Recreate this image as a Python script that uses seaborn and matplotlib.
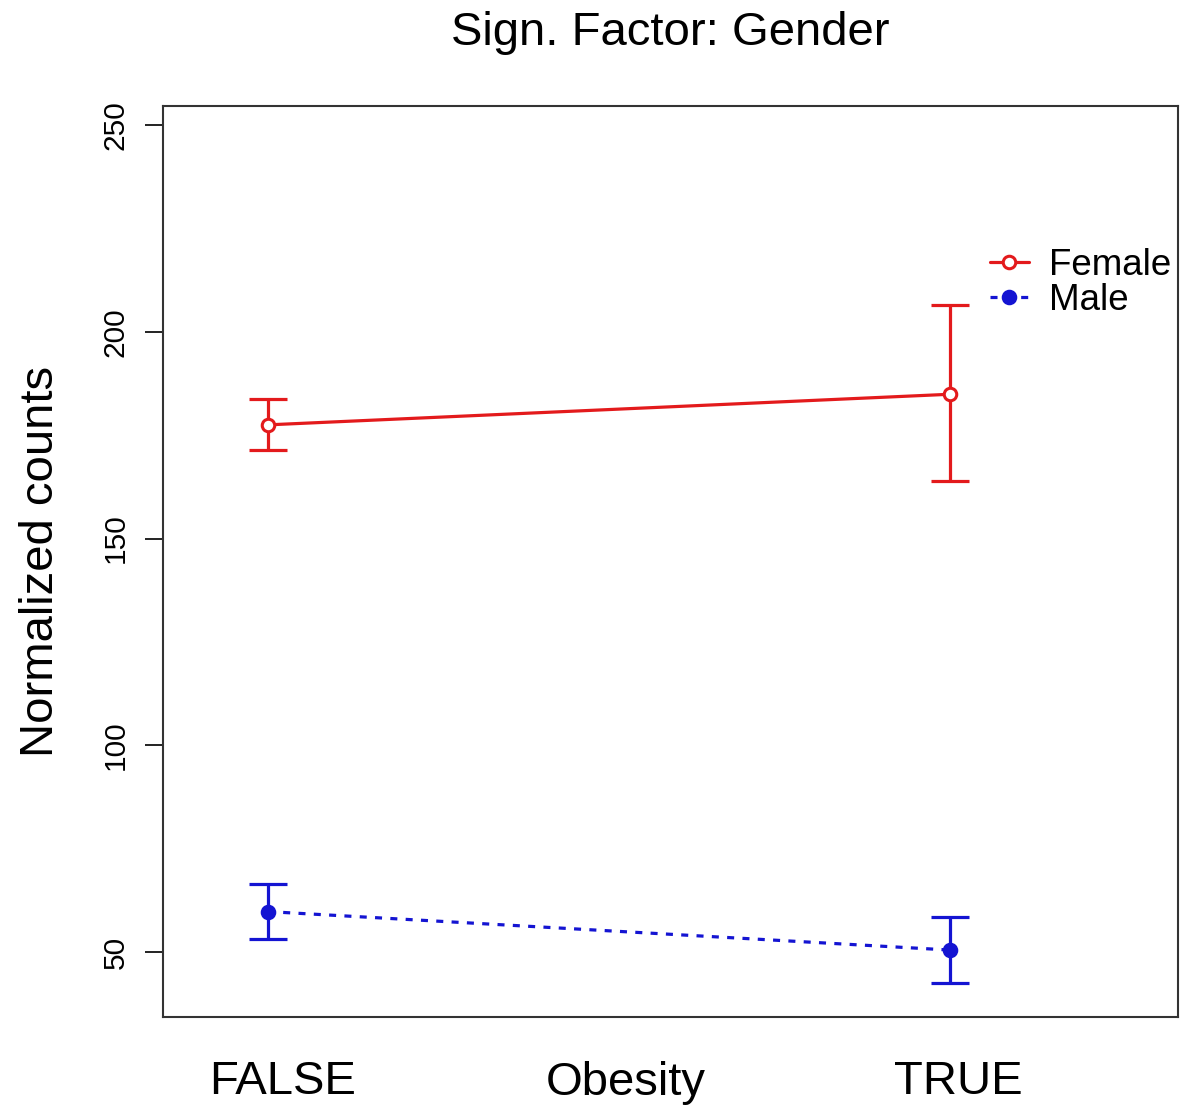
import numpy as np
import pandas as pd
import seaborn as sns
import matplotlib.pyplot as plt

# valores
categories = ["FALSE", "TRUE"]
genders = ["Female", "Male"]
female_mean = [177.5, 184.9]
female_lo = [171.4, 164.0]
female_hi = [183.7, 206.6]
male_mean = [59.8, 50.5]
male_lo = [53.1, 42.5]
male_hi = [66.4, 58.5]
yticks = [50, 100, 150, 200, 250]

sns.set_theme(style="white")
plt.rcParams['font.family'] = ['Liberation Sans', 'DejaVu Sans']
plt.rcParams['text.color'] = 'black'
plt.rcParams['axes.labelcolor'] = 'black'

x = np.arange(len(categories))
df = pd.DataFrame({
    "pos": np.concatenate([x, x]),
    "mean": female_mean + male_mean,
    "lo": female_lo + male_lo,
    "hi": female_hi + male_hi,
    "Gender": ["Female"] * 2 + ["Male"] * 2,
})

estilos = {
    "Female": dict(color="#e31a1c", mfc="white", ls="-"),
    "Male": dict(color="#1414d2", mfc="#1414d2", ls=(0, (2.2, 2.6))),
}

fig = plt.figure(figsize=(11.8, 11.08), dpi=100)
ax = fig.add_axes([0.138, 0.0821, 0.86, 0.8222])

for g in genders:
    sub = df[df["Gender"] == g]
    st = estilos[g]
    # barras de erro
    ax.errorbar(sub["pos"], sub["mean"],
                yerr=[sub["mean"] - sub["lo"], sub["hi"] - sub["mean"]],
                fmt="none", ecolor=st["color"], elinewidth=2.3,
                capsize=14, capthick=2.3, zorder=2)
    sns.lineplot(data=sub, x="pos", y="mean", ax=ax, errorbar=None,
                 color=st["color"], linewidth=2.3, linestyle=st["ls"],
                 marker="o", markersize=9, markerfacecolor=st["mfc"],
                 markeredgecolor=st["color"], markeredgewidth=2.2,
                 label=g, zorder=3)

ax.set_xlim(-0.154, 1.334)
ax.set_ylim(34.3, 254.6)
ax.set_yticks(yticks)
ax.set_yticklabels([str(t) for t in yticks], rotation=90, va="center")
ax.set_xticks([0.021, 1.0125])
ax.set_xticklabels(categories)
ax.tick_params(axis="x", length=0, pad=31, labelsize=34, labelcolor="black")
ax.tick_params(axis="y", length=13, width=1.4, pad=11, labelsize=21.5,
               colors="#222222", left=True)
ax.tick_params(axis="y", labelcolor="black")
ax.set_xlabel("")
ax.set_ylabel("Normalized counts", fontsize=34, labelpad=28)
ax.text(0.456, -0.0856, "Obesity", transform=ax.transAxes,
        ha="center", va="baseline", fontsize=34)
fig.suptitle("Sign. Factor: Gender", x=0.568, y=0.99, va="top", fontsize=34)

for s in ax.spines.values():
    s.set_visible(True)
    s.set_color("#333333")
    s.set_linewidth(1.5)

ax.legend(loc="center left", bbox_to_anchor=(0.815, 0.806), frameon=False,
          fontsize=26.5, handlelength=1.05, handletextpad=0.55,
          labelspacing=0.0, borderpad=0, borderaxespad=0)

fig.savefig("out.png", dpi=100)
